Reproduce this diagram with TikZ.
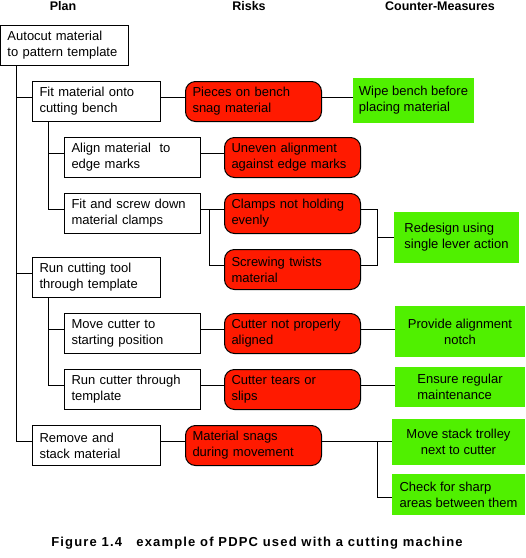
\documentclass[tikz,border=0pt]{standalone}
\usepackage{fontspec}
\setmainfont{Liberation Sans}
\usetikzlibrary{calc}
\definecolor{riskred}{RGB}{255,26,0}
\definecolor{cmgreen}{RGB}{80,240,0}
\newcommand{\boxfont}{\fontsize{13}{16}\selectfont}
\newcommand{\headfont}{\fontsize{12.5}{15}\selectfont\bfseries}
\newcommand{\capfont}{\fontsize{13}{15}\selectfont\bfseries\addfontfeatures{LetterSpace=9}}

\begin{document}
\begin{tikzpicture}[x=1pt,y=1pt,yscale=-1,xscale=1,
  plan/.style={draw, line width=1pt, anchor=north west, inner xsep=7pt, inner ysep=0pt, minimum height=40pt, align=left, font=\boxfont},
  risk/.style={plan, fill=riskred, rounded corners=10pt, text width=122pt},
  counterbox/.style={fill=cmgreen, anchor=north west, inner sep=0pt, outer sep=0pt, font=\boxfont},
  link/.style={line width=1pt}]
\useasboundingbox (0,0) rectangle (526,558);

% Text Node
\node[font=\headfont] (hplan) at (63,6) {Plan};
% Text Node
\node[font=\headfont] (hrisk) at (249,6) {Risks};
% Text Node
\node[font=\headfont] (hcm) at (440,6) {Counter-Measures};

%Shape: Rectangle -- plan
\node[plan, text width=114pt] (autocut) at (0,25) {Autocut material\\to pattern template};
\node[plan, text width=114pt] (fitbench) at (32,81) {Fit material onto\\cutting bench};
\node[plan, text width=122pt] (alignedge) at (64,137) {Align material\ \ to\\edge marks};
\node[plan, text width=122pt] (screwclamp) at (64,193) {Fit and screw down\\material clamps};
\node[plan, text width=114pt] (runtool) at (32,257) {Run cutting tool\\through template};
\node[plan, text width=122pt] (movecut) at (64,313) {Move cutter to\\starting position};
\node[plan, text width=122pt] (runcut) at (64,369) {Run cutter through\\template};
\node[plan, text width=114pt] (remove) at (32,425) {Remove and\\stack material};

%Shape: Rounded Rect -- risks
\node[risk] (snagbench) at (185,81) {Pieces on bench\\snag material};
\node[risk] (uneven) at (224,137) {Uneven alignment\\against edge marks};
\node[risk] (clamphold) at (224,193) {Clamps not holding\\evenly};
\node[risk] (twists) at (224,249) {Screwing twists\\material};
\node[risk] (notaligned) at (224,313) {Cutter not properly\\aligned};
\node[risk] (tears) at (224,369) {Cutter tears or\\slips};
\node[risk] (snagmove) at (185,425) {Material snags\\during movement};

%Shape: Rectangle -- counter-measures
\node[counterbox, minimum width=121pt, minimum height=45pt, align=left] (wipe) at (353,78) {Wipe bench before\\placing material};
\node[counterbox, minimum width=125pt, minimum height=51pt, align=left] (redesign) at (394,212) {Redesign using\\single lever action};
\node[counterbox, minimum width=130pt, minimum height=51pt, align=center] (notch) at (395,306) {Provide alignment\\notch};
\node[counterbox, minimum width=130pt, minimum height=40pt, align=left] (maint) at (395,367) {Ensure regular\\maintenance};
\node[counterbox, minimum width=133pt, minimum height=46pt, align=center] (trolley) at (392,419) {Move stack trolley\\next to cutter};
\node[counterbox, minimum width=133pt, minimum height=41pt, align=left] (sharp) at (392,474) {Check for sharp\\areas between them};

%Straight Lines -- plan tree
\draw[link] ($(autocut.south west)+(16.5,0)$) |- ($(remove.north west)+(0,16.5)$);
\draw[link] ($(autocut.south west)+(16.5,0)$) |- ($(fitbench.north west)+(0,16.5)$);
\draw[link] ($(autocut.south west)+(16.5,0)$) |- ($(runtool.north west)+(0,16.5)$);
\draw[link] ($(fitbench.south west)+(16.5,0)$) |- ($(screwclamp.north west)+(0,16.5)$);
\draw[link] ($(fitbench.south west)+(16.5,0)$) |- ($(alignedge.north west)+(0,16.5)$);
\draw[link] ($(runtool.south west)+(16.5,0)$) |- ($(runcut.north west)+(0,16.5)$);
\draw[link] ($(runtool.south west)+(16.5,0)$) |- ($(movecut.north west)+(0,16.5)$);

%Straight Lines -- plan to risk
\draw[link] ($(fitbench.north east)+(0,16.5)$) -- ($(snagbench.north west)+(0,16.5)$);
\draw[link] ($(alignedge.north east)+(0,16.5)$) -- ($(uneven.north west)+(0,16.5)$);
\draw[link] ($(screwclamp.north east)+(0,16.5)$) -- ($(clamphold.north west)+(0,16.5)$);
\draw[link] ($(screwclamp.north east)+(8.5,16.5)$) |- ($(twists.north west)+(0,16.5)$);
\draw[link] ($(movecut.north east)+(0,16.5)$) -- ($(notaligned.north west)+(0,16.5)$);
\draw[link] ($(runcut.north east)+(0,16.5)$) -- ($(tears.north west)+(0,16.5)$);
\draw[link] ($(remove.north east)+(0,16.5)$) -- ($(snagmove.north west)+(0,16.5)$);

%Straight Lines -- risk to counter-measure
\draw[link] ($(snagbench.north east)+(0,16.5)$) coordinate (w1) -- (w1 -| wipe.west);
\draw[link] ($(clamphold.north east)+(0,16.5)$) -| ($(twists.north east)+(16.5,16.5)$) -- ($(twists.north east)+(0,16.5)$);
\coordinate (join) at ($(clamphold.north east)!0.5!(twists.north east)+(16.5,16.5)$);
\draw[link] (join) -- (join -| redesign.west);
\draw[link] ($(notaligned.north east)+(0,16.5)$) coordinate (w2) -- (w2 -| notch.west);
\draw[link] ($(tears.north east)+(0,16.5)$) coordinate (w3) -- (w3 -| maint.west);
\draw[link] ($(snagmove.north east)+(0,16.5)$) coordinate (w4) -- (w4 -| trolley.west);
\draw[link] ($(snagmove.north east)+(55.5,16.5)$) |- ($(sharp.north west)+(0,23.5)$);

% Text Node
\node[font=\capfont] (caption) at (257,543) {Figure 1.4\ \ \ example of PDPC used with a cutting machine};

\end{tikzpicture}
\end{document}
